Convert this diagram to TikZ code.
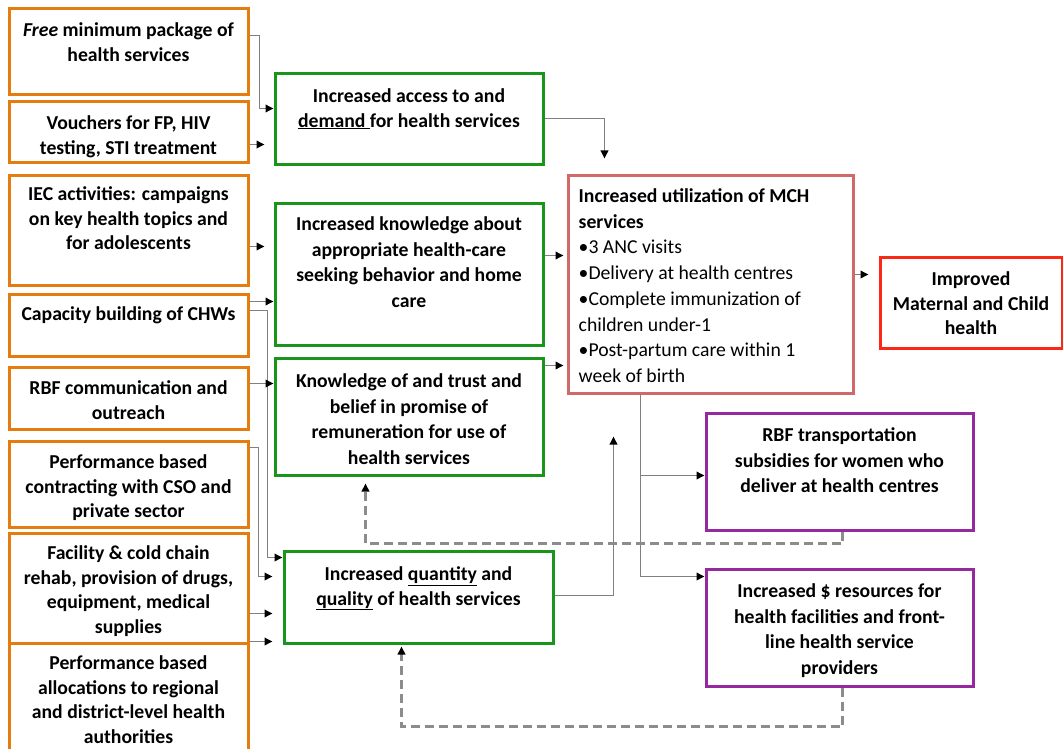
\documentclass[tikz,border=0pt]{standalone}
\usepackage{fontspec}
\setmainfont{Carlito}
\usepackage{tikz}
\usetikzlibrary{arrows.meta}
\definecolor{inputorange}{RGB}{228,124,16}
\definecolor{outcomegreen}{RGB}{25,150,25}
\definecolor{usered}{RGB}{210,105,105}
\definecolor{impactred}{RGB}{250,40,20}
\definecolor{rbfpurple}{RGB}{150,40,160}

\begin{document}
\begin{tikzpicture}[x=1pt, y=-1pt,
        inputbox/.style={draw=inputorange, line width=3pt, inner sep=0pt},
        outcomebox/.style={draw=outcomegreen, line width=3pt, inner sep=0pt},
        usebox/.style={draw=usered, line width=3pt, inner sep=0pt},
        impactbox/.style={draw=impactred, line width=3pt, inner sep=0pt},
        rbfbox/.style={draw=rbfpurple, line width=3pt, inner sep=0pt},
        boxtext/.style={anchor=north, inner sep=0pt, align=center, font=\bfseries\fontsize{19.7}{24.5}\selectfont},
        wideboxtext/.style={boxtext, font=\bfseries\fontsize{19.7}{25.5}\selectfont},
        link/.style={draw=gray, line width=1.8pt, -{Triangle[length=8pt,width=7.5pt,color=black]}},
        feedback/.style={draw=gray!90, line width=2.2pt, dash pattern=on 9pt off 5pt, -{Triangle[length=8pt,width=7.5pt,color=black]}},
]
        \useasboundingbox (0,0) rectangle (1063,749);

        % inputs
        \node[inputbox, minimum width=239pt, minimum height=86pt] (free) at (128.5,52) {};
        \node[inputbox, minimum width=239pt, minimum height=61pt] (vouch) at (128.5,132.5) {};
        \node[inputbox, minimum width=239pt, minimum height=110pt] (iec) at (128.5,230) {};
        \node[inputbox, minimum width=239pt, minimum height=62pt] (cap) at (128.5,325) {};
        \node[inputbox, minimum width=239pt, minimum height=62pt] (rbfc) at (128.5,398) {};
        \node[inputbox, minimum width=239pt, minimum height=86pt] (pbc) at (128.5,484) {};
        \node[inputbox, minimum width=239pt, minimum height=110pt] (fac) at (128.5,588) {};
        \node[inputbox, minimum width=239pt, minimum height=117pt] (pba) at (128.5,701.5) {};

        \node[boxtext] (freetext) at ([yshift=-15pt]free.north) {\textit{Free} minimum package of\\health services};
        \node[boxtext] (vouchtext) at ([yshift=-15pt]vouch.north) {Vouchers for FP, HIV\\testing, STI treatment};
        \node[boxtext] (iectext) at ([yshift=-13pt]iec.north) {IEC activities: campaigns\\on key health topics and\\for adolescents};
        \node[boxtext] (captext) at ([yshift=-14pt]cap.north) {Capacity building of CHWs};
        \node[boxtext] (rbfctext) at ([yshift=-15pt]rbfc.north) {RBF communication and\\outreach};
        \node[boxtext] (pbctext) at ([yshift=-15pt]pbc.north) {Performance based\\contracting with CSO and\\private sector};
        \node[boxtext] (factext) at ([yshift=-14pt]fac.north) {Facility \& cold chain\\rehab, provision of drugs,\\equipment, medical\\supplies};
        \node[boxtext] (pbatext) at ([yshift=-14pt]pba.north) {Performance based\\allocations to regional\\and district-level health\\authorities};

        % intermediate outcomes
        \node[outcomebox, minimum width=268pt, minimum height=91pt] (access) at (409,119.5) {};
        \node[outcomebox, minimum width=268pt, minimum height=142pt] (know) at (409,274) {};
        \node[outcomebox, minimum width=268pt, minimum height=117pt] (trust) at (409,416.5) {};
        \node[outcomebox, minimum width=269pt, minimum height=92pt] (qty) at (418.5,597) {};

        \node[boxtext] (accesstext) at ([yshift=-16pt]access.north) {Increased access to and\\\underline{demand }for health services};
        \node[wideboxtext] (knowtext) at ([yshift=-15pt]know.north) {Increased knowledge about\\appropriate health-care\\seeking behavior and home\\care};
        \node[wideboxtext] (trusttext) at ([yshift=-17pt]trust.north) {Knowledge of and trust and\\belief in promise of\\remuneration for use of\\health services};
        \node[boxtext] (qtytext) at ([yshift=-17pt]qty.north) {Increased \underline{quantity} and\\\underline{quality} of health services};

        % use and impact
        \node[usebox, minimum width=285pt, minimum height=218pt] (mch) at (710.5,284) {};
        \node[impactbox, minimum width=182pt, minimum height=91pt] (impr) at (971,302.5) {};
        \node[wideboxtext, anchor=north west, align=left, font=\fontsize{19.7}{25.7}\selectfont] (mchtext) at ([xshift=12pt,yshift=-15pt]mch.north west)
            {\textbf{Increased utilization of MCH}\\\textbf{services}\\•3 ANC visits\\•Delivery at health centres\\•Complete immunization of\\children under-1\\•Post-partum care within 1\\week of birth};
        \node[boxtext] (imprtext) at ([yshift=-16pt]impr.north) {Improved\\Maternal and Child\\health};

        % RBF payments
        \node[rbfbox, minimum width=267pt, minimum height=117pt] (transp) at (839.5,471.5) {};
        \node[rbfbox, minimum width=267pt, minimum height=117pt] (res) at (839.5,627.5) {};

        \node[wideboxtext] (transptext) at ([yshift=-16pt]transp.north) {RBF transportation\\subsidies for women who\\deliver at health centres};
        \node[wideboxtext] (restext) at ([yshift=-16pt]res.north) {Increased \$ resources for\\health facilities and front-\\line health service\\providers};

        % inputs to outcomes
        \draw[link] ([yshift=-28pt]free.north east) -- ++(10,0) |- ([yshift=-36pt]access.north west);
        \draw[link, shorten >=9pt] ([yshift=-44pt]vouch.north east) -- ([yshift=-72pt]access.north west);
        \draw[link, shorten >=9pt] ([yshift=-73pt]iec.north east) -- ([yshift=-45pt]know.north west);
        \draw[link] ([yshift=-9pt]cap.north east) -- ([yshift=-100pt]know.north west);
        \draw[link] ([yshift=-18pt]cap.north east) -- ++(18,0) |- ([yshift=-8pt]qty.north west);
        \draw[link] ([yshift=-18pt]rbfc.north east) -- ([yshift=-27pt]trust.north west);
        \draw[link, shorten >=10pt] ([yshift=-8pt]pbc.north east) -- ++(9,0) |- ([yshift=-27pt]qty.north west);
        \draw[link, shorten >=10pt] ([yshift=-82pt]fac.north east) -- ([yshift=-64pt]qty.north west);
        \draw[link, shorten >=10pt] (pba.north east) -- (qty.south west |- pba.north east);

        % outcomes to use
        \draw[link, shorten >=15pt] ([yshift=-46pt]access.north east) -| ([xshift=38pt]mch.north west);
        \draw[link, shorten >=3pt] ([yshift=-54pt]know.north east) -- ([yshift=-82pt]mch.north west);
        \draw[link, shorten >=3pt] ([yshift=-9pt]trust.north east) -- ([yshift=-192pt]mch.north west);
        \draw[link, shorten >=42pt] ([yshift=-46pt]qty.north east) -| ([xshift=47pt]mch.south west);
        \draw[link, shorten >=10pt] ([yshift=-101pt]mch.north east) -- ([yshift=-19pt]impr.north west);
        \draw[link] ([xshift=74pt]mch.south west) |- ([yshift=-64pt]transp.north west);
        \draw[link] ([xshift=74pt]mch.south west) |- ([yshift=-9pt]res.north west);

        % feedback
        \draw[feedback, shorten >=7pt] ([xshift=138pt]transp.south west) -- ++(0,12) -| ([xshift=92pt]trust.south west);
        \draw[feedback, shorten >=2pt] ([xshift=138pt]res.south west) -- ++(0,39) -| ([xshift=119pt]qty.south west);
\end{tikzpicture}
\end{document}
